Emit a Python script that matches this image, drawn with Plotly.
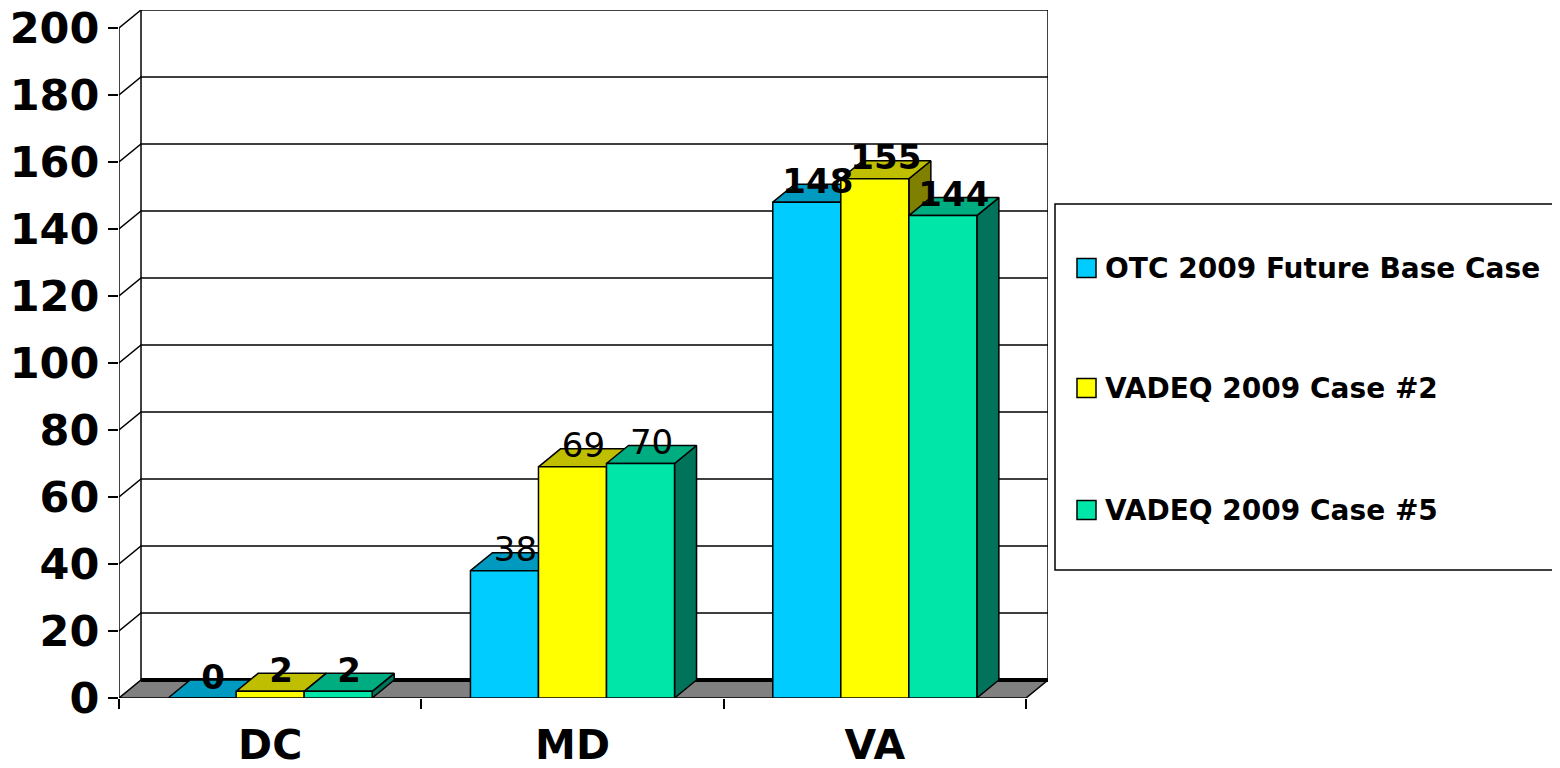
import plotly.graph_objects as go

# ---------------- data ----------------
categories = ["DC", "MD", "VA"]
series_names = ["OTC 2009 Future Base Case", "VADEQ 2009 Case #2", "VADEQ 2009 Case #5"]
otc_base_case = [0, 38, 148]
vadeq_case2 = [2, 69, 155]
vadeq_case5 = [2, 70, 144]
y_tick_values = [0, 20, 40, 60, 80, 100, 120, 140, 160, 180, 200]
label_bold = [True, False, True]  # per category, as rendered in the source

series_values = [otc_base_case, vadeq_case2, vadeq_case5]

# ---------------- style ----------------
FONT = "DejaVu Sans"
front_colors = ["#00CCFF", "#FFFF00", "#00E6A8"]
top_colors = ["#0099BF", "#BFBF00", "#00AD80"]
side_colors = ["#007FA0", "#808000", "#00735A"]
FLOOR = "#808080"

OFF = 8  # page body margin
W, H = 1560 - OFF, 768 - OFF
ML, MR, MT, MB = 119 - OFF, 512, 10 - OFF, 70
PW, PH = W - ML - MR, H - MT - MB

XMIN, XMAX = -0.5, 2.5
YMAX = 200
DY = 5.37     # depth offset, value units
DX = 0.0728   # depth offset, category units
BARW = 0.225


def px2paper_x(px):
    return (px - OFF - ML) / PW


def px2paper_y(py):
    return (H + OFF - MB - py) / PH


fig = go.Figure()

# ---------------- walls & gridlines ----------------
gx, gy = [], []
for t in y_tick_values[1:]:
    gx += [XMIN, XMIN + DX, XMAX + DX, None]
    gy += [t, t + DY, t + DY, None]
gx += [XMIN, XMIN, None, XMIN + DX, XMIN + DX, None, XMAX + DX, XMAX + DX, None]
gy += [0, YMAX, None, DY, YMAX + DY, None, DY, YMAX + DY, None]
fig.add_trace(go.Scatter(x=gx, y=gy, mode="lines", line=dict(color="black", width=1.5),
                         hoverinfo="skip", showlegend=False))

# floor
fig.add_trace(go.Scatter(x=[XMIN, XMAX, XMAX + DX, XMIN + DX, XMIN],
                         y=[0, 0, DY, DY, 0], mode="lines", fill="toself",
                         fillcolor=FLOOR, line=dict(color="black", width=1.5),
                         hoverinfo="skip", showlegend=False))
fig.add_trace(go.Scatter(x=[XMIN + DX, XMAX + DX], y=[DY, DY], mode="lines",
                         line=dict(color="black", width=4), hoverinfo="skip", showlegend=False))

# ---------------- 3D bars ----------------
n_series = len(series_values)
for s, vals in enumerate(series_values):
    sx, sy, tx, ty, fx, fy = [], [], [], [], [], []
    for j, v in enumerate(vals):
        c = j + (s - (n_series - 1) / 2) * BARW
        x0, x1 = c - BARW / 2, c + BARW / 2
        sx += [x1, x1 + DX, x1 + DX, x1, x1, None]
        sy += [0, DY, v + DY, v, 0, None]
        tx += [x0, x1, x1 + DX, x0 + DX, x0, None]
        ty += [v, v, v + DY, v + DY, v, None]
        fx += [x0, x1, x1, x0, x0, None]
        fy += [0, 0, v, v, 0, None]
    for xs, ys, col in ((sx, sy, side_colors[s]), (tx, ty, top_colors[s]), (fx, fy, front_colors[s])):
        fig.add_trace(go.Scatter(x=xs, y=ys, mode="lines", fill="toself", fillcolor=col,
                                 line=dict(color="black", width=1.5), hoverinfo="skip",
                                 showlegend=False, name=series_names[s]))

# data labels
for s, vals in enumerate(series_values):
    lx, ly, lt = [], [], []
    for j, v in enumerate(vals):
        c = j + (s - (n_series - 1) / 2) * BARW
        lx.append(c + DX / 2)
        ly.append(v + DY)
        lt.append(f"<b>{v}</b>" if label_bold[j] else f"{v}")
    fig.add_trace(go.Scatter(x=lx, y=ly, mode="text", text=lt, textposition="middle center",
                             textfont=dict(family=FONT, size=34, color="black"),
                             hoverinfo="skip", showlegend=False))

# ---------------- manual legend ----------------
shapes = [dict(type="rect", xref="paper", yref="paper",
               x0=px2paper_x(1055), x1=px2paper_x(1620),
               y0=px2paper_y(570), y1=px2paper_y(204),
               line=dict(color="black", width=1.5), fillcolor="white", layer="below")]
annotations = []
legend_centers = [268, 388, 510]
for s, name in enumerate(series_names):
    cy = legend_centers[s]
    shapes.append(dict(type="rect", xref="paper", yref="paper",
                       x0=px2paper_x(1077), x1=px2paper_x(1096),
                       y0=px2paper_y(cy + 9.5), y1=px2paper_y(cy - 9.5),
                       line=dict(color="black", width=1.5), fillcolor=front_colors[s]))
    annotations.append(dict(xref="paper", yref="paper", x=px2paper_x(1103), y=px2paper_y(cy),
                            xanchor="left", yanchor="middle", showarrow=False, text=name,
                            font=dict(family=FONT, size=28, color="black", weight="bold")))

fig.update_layout(
    width=W, height=H,
    margin=dict(l=ML, r=MR, t=MT, b=MB, pad=0, autoexpand=False),
    paper_bgcolor="white", plot_bgcolor="white",
    showlegend=False,
    shapes=shapes, annotations=annotations,
    font=dict(family=FONT, color="black"),
    xaxis=dict(range=[XMIN, XMAX + DX], tickmode="array", tickvals=[0, 1, 2], ticktext=categories,
               ticks="", showgrid=False, zeroline=False, showline=False, fixedrange=True,
               automargin=False, ticklabeloverflow="allow",
               tickfont=dict(family=FONT, size=41, color="black", weight="bold"),
               ticklabelstandoff=19,
               minor=dict(tickmode="array", tickvals=[-0.5, 0.5, 1.5, 2.5], ticks="outside",
                          ticklen=10, tickwidth=1.5, tickcolor="black", showgrid=False)),
    yaxis=dict(range=[0, YMAX + DY], tickmode="array", tickvals=y_tick_values,
               ticks="outside", ticklen=10, tickwidth=1.5, tickcolor="black",
               showgrid=False, zeroline=False, showline=False, fixedrange=True,
               automargin=False, ticklabeloverflow="allow",
               tickfont=dict(family=FONT, size=43, color="black", weight="bold")),
)

fig.write_html("out.html")
